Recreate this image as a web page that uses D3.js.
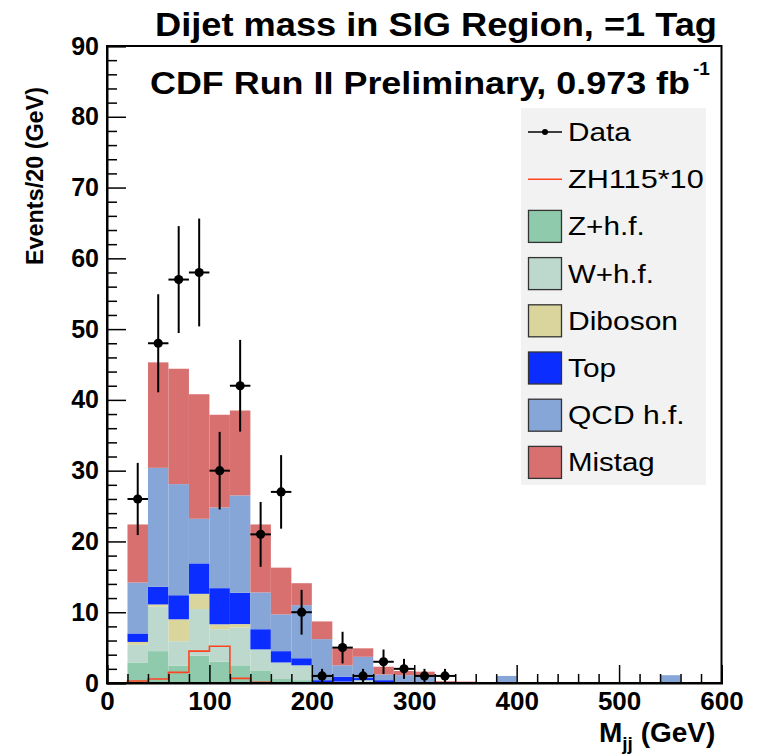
<!DOCTYPE html>
<html><head><meta charset="utf-8">
<script src="https://cdn.jsdelivr.net/npm/d3@7"></script>
<style>body{margin:0;background:#fff}svg{display:block}</style>
</head><body>
<svg id="c" width="764" height="756"></svg>
<script>
// Bin lower edges (GeV), 20 GeV bins from 0 to 580
const binEdges = d3.range(0, 600, 20);
// Background components per bin (events)
const zhf    = [0,2.9,4.5,2.45,3.86,3.0,2.5,1.7,0.56,0.4,0.05,0.1,0.2,0,0,0,0,0,0,0,0,0,0,0,0,0,0,0,0,0];
const whf    = [0,2.5,6.3,3.45,6.59,4.6,5.35,3.05,2.34,2.1,0.05,0.1,0.2,0.1,0,0,0,0,0,0,0,0,0,0,0,0,0,0,0,0];
const dibos  = [0,0.4,0.3,3.1,2.15,0.7,0.48,0,0,0,0,0,0,0,0,0,0,0,0,0,0,0,0,0,0,0,0,0,0,0];
const topq   = [0,1.2,2.5,3.4,4.3,5.1,4.42,2.85,1.6,1.0,0.3,0.7,0.3,0.3,0.1,0.05,0,0,0,0,0,0,0,0,0,0,0,0,0,0];
const qcdhf  = [0,7.2,16.8,15.7,6.3,11.4,13.75,5.2,5.2,7.5,5.8,1.6,3.0,0.8,1.0,0.95,0.1,0,0,1.0,0,0,0,0,0,0,0,1.1,0,0];
const mistag = [0,8.2,14.9,16.3,17.6,13.1,12.0,9.6,6.6,3.1,2.5,2.4,1.2,1.1,0.6,0.6,0.15,0.2,0,0,0,0,0,0,0,0,0,0,0,0];
// Signal ZH115*10
const signal = [0,0.28,0.56,1.5,4.5,5.2,0.65,0.1,0,0,0,0,0,0,0,0,0,0,0,0,0,0,0,0,0,0,0,0,0,0];
// Data
const dataX = [30,50,70,90,110,130,150,170,190,210,230,250,270,290,310,330];
const dataY = [26,48,57,58,30,42,21,27,10,1,5,1,3,2,1,1];
// Ticks
const xTicks = [0,100,200,300,400,500,600];
const yTicks = [0,10,20,30,40,50,60,70,80,90];

const keys = ["Z+h.f.","W+h.f.","Diboson","Top","QCD h.f.","Mistag"];
const series = [zhf, whf, dibos, topq, qcdhf, mistag];
const colors = ["#8ecaab","#bdd8cd","#d9d59c","#0b2dff","#87a6d8","#d87070"];
const sigColor = "#ff4422";

const svg = d3.select("#c");
const X0 = 107, X1 = 721.5, Y0 = 683, Y1 = 46;
const x = d3.scaleLinear().domain([0,600]).range([X0, X1]);
const y = d3.scaleLinear().domain([0,90]).range([Y0, Y1]);

const table = binEdges.map((e,i) => { const o = {edge:e}; keys.forEach((k,j)=>o[k]=series[j][i]); return o; });
const stacked = d3.stack().keys(keys)(table);

const gStack = svg.append("g");
stacked.forEach((layer, li) => {
  gStack.append("g").attr("fill", colors[li])
    .selectAll("rect").data(layer.filter(d => d[1]-d[0] > 0)).join("rect")
    .attr("x", d => x(d.data.edge))
    .attr("width", d => x(d.data.edge+20) - x(d.data.edge))
    .attr("y", d => y(d[1]))
    .attr("height", d => y(d[0]) - y(d[1]));
});

// signal step line
const sigPts = binEdges.map((e,i)=>[e, signal[i]]).concat([[600, signal[signal.length-1]]]);
svg.append("path").attr("d", d3.line().x(d=>x(d[0])).y(d=>y(d[1])).curve(d3.curveStepAfter)(sigPts))
  .attr("fill","none").attr("stroke",sigColor).attr("stroke-width",1.6);

// data
const gData = svg.append("g").attr("stroke","#000").attr("stroke-width",2);
dataX.forEach((dx,i)=>{
  const v = dataY[i], e = Math.sqrt(v);
  gData.append("line").attr("x1",x(dx)).attr("x2",x(dx)).attr("y1",y(v-e)).attr("y2",y(v+e));
  gData.append("line").attr("x1",x(dx-10)).attr("x2",x(dx+10)).attr("y1",y(v)).attr("y2",y(v));
  gData.append("circle").attr("cx",x(dx)).attr("cy",y(v)).attr("r",4.6).attr("fill","#000").attr("stroke","none");
});

// frame
svg.append("rect").attr("x",X0).attr("y",Y1).attr("width",X1-X0).attr("height",Y0-Y1)
  .attr("fill","none").attr("stroke","#000").attr("stroke-width",2);

const font = "'Liberation Sans', Arial, Helvetica, sans-serif";
// y axis
const yMinor = d3.range(0, 91, 2).filter(v => v % 10 !== 0);
svg.append("g").attr("transform",`translate(${X0},0)`)
  .call(d3.axisLeft(y).tickValues(yMinor).tickSize(-10).tickFormat(""))
  .call(g=>{g.select(".domain").remove(); g.selectAll("line").attr("stroke","#000").attr("stroke-width",1.5);});
svg.append("g").attr("transform",`translate(${X0},0)`)
  .call(d3.axisLeft(y).tickValues(yTicks).tickSize(-19).tickFormat(d3.format("d")))
  .call(g=>{g.select(".domain").attr("stroke","#000").attr("stroke-width",2);
    g.selectAll("line").attr("stroke","#000").attr("stroke-width",1.5);
    g.selectAll("text").attr("font-family",font).attr("font-weight","bold").attr("font-size",25).attr("fill","#000").attr("x",-8);});
// x axis
const xMinor = d3.range(0, 601, 20).filter(v => v % 100 !== 0);
svg.append("g").attr("transform",`translate(0,${Y0})`)
  .call(d3.axisBottom(x).tickValues(xMinor).tickSize(-9).tickFormat(""))
  .call(g=>{g.select(".domain").remove(); g.selectAll("line").attr("stroke","#000").attr("stroke-width",1.5);});
svg.append("g").attr("transform",`translate(0,${Y0})`)
  .call(d3.axisBottom(x).tickValues(xTicks).tickSize(-18).tickFormat(d3.format("d")))
  .call(g=>{g.select(".domain").attr("stroke","#000").attr("stroke-width",2);
    g.selectAll("line").attr("stroke","#000").attr("stroke-width",1.5);
    g.selectAll("text").attr("font-family",font).attr("font-weight","bold").attr("font-size",26).attr("fill","#000").attr("y",9);});

// titles
svg.append("text").attr("x",155).attr("y",36).attr("font-family",font).attr("font-weight","bold")
  .attr("font-size",33).attr("textLength",562).attr("lengthAdjust","spacingAndGlyphs")
  .text("Dijet mass in SIG Region, =1 Tag");
svg.append("text").attr("x",150).attr("y",94).attr("font-family",font).attr("font-weight","bold")
  .attr("font-size",31).attr("textLength",540).attr("lengthAdjust","spacingAndGlyphs")
  .text("CDF Run II Preliminary, 0.973 fb");
svg.append("text").attr("x",693).attr("y",75).attr("font-family",font).attr("font-weight","bold")
  .attr("font-size",19).text("-1");

// axis titles
svg.append("text").attr("transform","translate(43,265) rotate(-90)").attr("font-family",font)
  .attr("font-weight","bold").attr("font-size",24).attr("textLength",178).attr("lengthAdjust","spacingAndGlyphs")
  .text("Events/20 (GeV)");
const xl = svg.append("text").attr("x",599).attr("y",742).attr("font-family",font).attr("font-weight","bold").attr("font-size",28);
xl.append("tspan").text("M");
xl.append("tspan").attr("dy",8).attr("font-size",19).text("jj");
xl.append("tspan").attr("dy",-8).text(" (GeV)");

// legend
const L = svg.append("g");
L.append("rect").attr("x",521).attr("y",108).attr("width",185).attr("height",377).attr("fill","#f2f2f2");
const legItems = [
  {label:"Data", type:"data", w:62.7},
  {label:"ZH115*10", type:"line", w:135.7},
  {label:"Z+h.f.", type:"box", c:colors[0], w:76.7},
  {label:"W+h.f.", type:"box", c:colors[1], w:86},
  {label:"Diboson", type:"box", c:colors[2], w:110},
  {label:"Top", type:"box", c:colors[3], w:48},
  {label:"QCD h.f.", type:"box", c:colors[4], w:116.7},
  {label:"Mistag", type:"box", c:colors[5], w:86.7}
];
legItems.forEach((it,i)=>{
  const cy = 132 + i*47.2;
  if(it.type==="data"){
    L.append("line").attr("x1",528).attr("x2",562).attr("y1",cy).attr("y2",cy).attr("stroke","#000").attr("stroke-width",1.5);
    L.append("circle").attr("cx",545).attr("cy",cy).attr("r",3).attr("fill","#000");
  } else if(it.type==="line"){
    L.append("line").attr("x1",528).attr("x2",562).attr("y1",cy).attr("y2",cy).attr("stroke",sigColor).attr("stroke-width",1.5);
  } else {
    L.append("rect").attr("x",528.5).attr("y",cy-16).attr("width",33).attr("height",32)
      .attr("fill",it.c).attr("stroke","#333").attr("stroke-width",1.3);
  }
  L.append("text").attr("x",568).attr("y",cy+9).attr("font-family",font).attr("font-size",25)
    .attr("textLength",it.w).attr("lengthAdjust","spacingAndGlyphs").text(it.label);
});
</script>
</body></html>
